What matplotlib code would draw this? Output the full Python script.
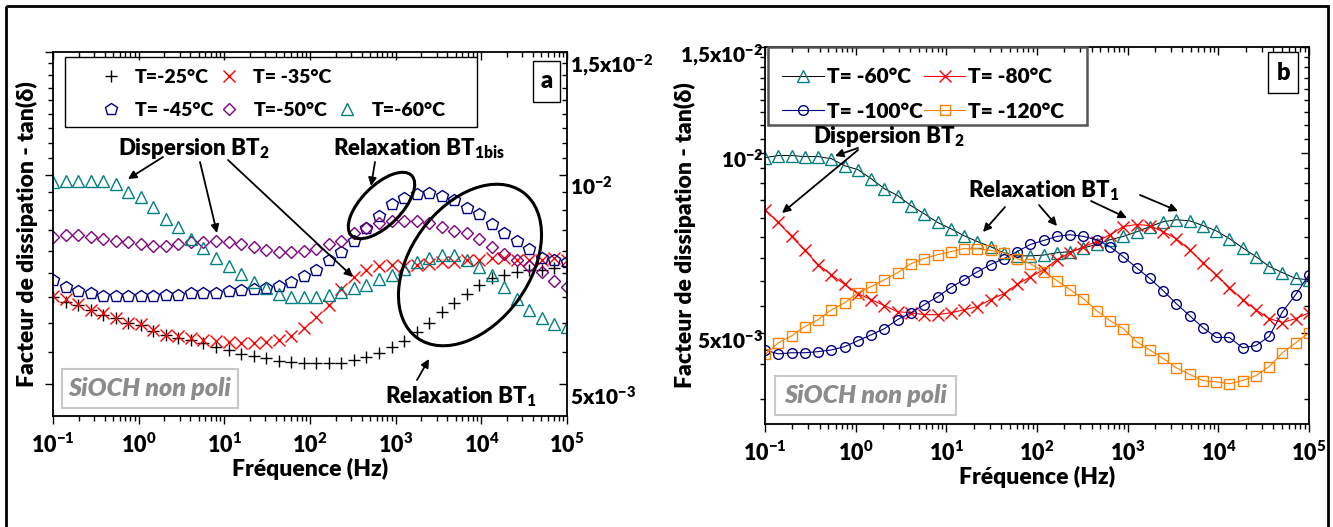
import matplotlib
matplotlib.use('Agg')
import numpy as np
import matplotlib.pyplot as plt
import matplotlib.lines as mlines
import matplotlib.transforms as mtransforms
from matplotlib.patches import Ellipse, Rectangle, FancyArrowPatch
from matplotlib.ticker import FixedLocator, FixedFormatter, LogLocator, NullFormatter

plt.rcParams['font.family'] = ['Lato', 'DejaVu Sans']
plt.rcParams['font.weight'] = 'heavy'
plt.rcParams['axes.labelweight'] = 'heavy'
plt.rcParams['mathtext.default'] = 'regular'
plt.rcParams['axes.linewidth'] = 1.3

# frequence (Hz), meme grille pour les deux panneaux
freq = [0.1, 0.1401, 0.1962, 0.2749, 0.3850, 0.5393, 0.7555,
        1.058, 1.482, 2.076, 2.908, 4.073, 5.705, 7.991,
        11.19, 15.68, 21.96, 30.77, 43.10, 60.37, 84.56,
        118.5, 165.9, 232.4, 325.5, 456.0, 638.7, 894.7,
        1253, 1756, 2459, 3444, 4825, 6759, 9454,
        13243, 18551, 25986, 36400, 50988, 71422, 100000]

# panneau a : tan(delta) x 1e-3
a_m25 = [6.67, 6.56, 6.49, 6.39, 6.28, 6.22, 6.12, 6.08, 5.96, 5.88,
         5.83, 5.78, 5.72, 5.66, 5.59, 5.53, 5.48, 5.46, 5.40, 5.38,
         5.37, 5.37, 5.37, 5.37, 5.41, 5.47, 5.54, 5.65, 5.76, 5.94,
         6.12, 6.34, 6.53, 6.73, 6.93, 7.10, 7.17, 7.24, 7.29, 7.29,
         7.33, 7.38]
a_m35 = [6.69, 6.62, 6.51, 6.39, 6.33, 6.22, 6.12, 6.10, 5.98, 5.88,
         5.86, 5.82, 5.78, 5.76, 5.74, 5.72, 5.72, 5.75, 5.78, 5.86,
         6.02, 6.24, 6.49, 6.84, 7.12, 7.29, 7.38, 7.41, 7.38, 7.41,
         7.43, 7.48, 7.50, 7.53, 7.55, 7.58, 7.58, 7.55, 7.55, 7.53,
         7.58, 7.53]
a_m45 = [7.05, 6.89, 6.80, 6.75, 6.69, 6.69, 6.69, 6.69, 6.69, 6.71,
         6.72, 6.75, 6.75, 6.77, 6.80, 6.82, 6.86, 6.88, 6.91, 7.01,
         7.14, 7.30, 7.53, 7.74, 8.04, 8.37, 8.71, 9.06, 9.27, 9.39,
         9.42, 9.33, 9.18, 8.94, 8.77, 8.48, 8.23, 8.02, 7.81, 7.60,
         7.53, 7.50]
a_m50 = [8.13, 8.18, 8.18, 8.13, 8.09, 8.04, 8.00, 7.96, 7.89, 7.89,
         7.96, 8.00, 8.00, 8.04, 8.00, 7.94, 7.87, 7.80, 7.74, 7.74,
         7.76, 7.83, 7.96, 8.04, 8.23, 8.37, 8.51, 8.59, 8.59, 8.59,
         8.52, 8.42, 8.31, 8.23, 8.07, 7.86, 7.68, 7.53, 7.38, 7.24,
         7.03, 6.89]
a_m60 = [9.75, 9.80, 9.80, 9.78, 9.78, 9.68, 9.43, 9.30, 8.98, 8.64,
         8.40, 8.09, 7.85, 7.60, 7.38, 7.19, 7.01, 6.88, 6.73, 6.67,
         6.67, 6.67, 6.71, 6.78, 6.87, 6.93, 7.07, 7.17, 7.31, 7.48,
         7.60, 7.66, 7.66, 7.53, 7.36, 7.17, 6.89, 6.62, 6.39, 6.22,
         6.10, 6.04]

# panneau b : tan(delta) x 1e-3
b_m60 = [9.81, 9.89, 9.89, 9.85, 9.85, 9.77, 9.51, 9.37, 9.05, 8.71,
         8.48, 8.16, 7.91, 7.65, 7.47, 7.27, 7.11, 6.97, 6.81, 6.73,
         6.73, 6.75, 6.81, 6.84, 6.94, 7.03, 7.16, 7.25, 7.38, 7.53,
         7.67, 7.73, 7.70, 7.56, 7.41, 7.19, 6.94, 6.71, 6.46, 6.31,
         6.17, 6.14]
b_m80 = [8.04, 7.65, 7.25, 6.87, 6.51, 6.26, 6.03, 5.82, 5.69, 5.56,
         5.43, 5.41, 5.37, 5.37, 5.41, 5.47, 5.54, 5.69, 5.82, 6.03,
         6.21, 6.38, 6.63, 6.81, 6.97, 7.11, 7.30, 7.53, 7.59, 7.56,
         7.38, 7.19, 6.89, 6.56, 6.26, 5.96, 5.69, 5.47, 5.29, 5.21,
         5.29, 5.41]
b_m100 = [4.69, 4.62, 4.64, 4.64, 4.66, 4.69, 4.75, 4.86, 4.97, 5.09,
          5.27, 5.41, 5.58, 5.75, 5.96, 6.14, 6.33, 6.51, 6.66, 6.84,
          7.03, 7.14, 7.25, 7.30, 7.25, 7.16, 6.97, 6.71, 6.43, 6.17,
          5.89, 5.60, 5.35, 5.11, 4.92, 4.92, 4.73, 4.77, 4.94, 5.43,
          5.80, 6.26]
b_m120 = [4.61, 4.82, 4.95, 5.13, 5.27, 5.47, 5.62, 5.84, 5.98, 6.14,
          6.31, 6.53, 6.66, 6.76, 6.84, 6.92, 6.92, 6.87, 6.81, 6.66,
          6.53, 6.33, 6.12, 5.91, 5.71, 5.45, 5.25, 5.09, 4.84, 4.69,
          4.54, 4.38, 4.27, 4.17, 4.15, 4.12, 4.17, 4.25, 4.40, 4.64,
          4.82, 5.01]

x_ticks = [0.1, 1, 10, 100, 1e3, 1e4, 1e5]
x_labels = ['10$^{-1}$', '10$^{0}$', '10$^{1}$', '10$^{2}$', '10$^{3}$', '10$^{4}$', '10$^{5}$']
y_ticks = [5e-3, 1e-2, 1.5e-2]
y_labels = ['5x10$^{-3}$', '10$^{-2}$', '1,5x10$^{-2}$']
y_minor = [3.333e-3, 3.889e-3, 4.444e-3, 5.556e-3, 6.111e-3, 6.667e-3, 7.222e-3,
           7.778e-3, 8.333e-3, 8.889e-3, 9.444e-3, 10.556e-3, 11.111e-3, 11.667e-3,
           12.222e-3, 12.778e-3, 13.333e-3, 13.889e-3, 14.444e-3]

W, H = 1333, 527
fig = plt.figure(figsize=(W / 100, H / 100), dpi=100)
# coordonnees en pixels de l'image (y vers le bas)
pix = mtransforms.Affine2D().scale(1 / W, -1 / H).translate(0, 1) + fig.transFigure

ax_a = fig.add_axes([53 / W, 1 - 416 / H, 514 / W, 364 / H])
ax_b = fig.add_axes([765 / W, 1 - 424 / H, 544 / W, 377 / H])

f = np.array(freq)
teal, red, navy, purple, orange = '#008080', '#FF0000', '#000080', '#800080', '#FF8000'

# ---- panneau a : points seuls
h25, = ax_a.plot(f, np.array(a_m25) * 1e-3, ls='none', marker='+', color='k', ms=8, mew=1.0)
h35, = ax_a.plot(f, np.array(a_m35) * 1e-3, ls='none', marker='x', color=red, ms=8, mew=1.0)
h45, = ax_a.plot(f, np.array(a_m45) * 1e-3, ls='none', marker='p', mfc='none', mec=navy, ms=9, mew=1.0)
h50, = ax_a.plot(f, np.array(a_m50) * 1e-3, ls='none', marker='D', mfc='none', mec=purple, ms=6, mew=1.0)
h60, = ax_a.plot(f, np.array(a_m60) * 1e-3, ls='none', marker='^', mfc='none', mec=teal, ms=8.5, mew=1.0)

# ---- panneau b : points + lignes
g60, = ax_b.plot(f, np.array(b_m60) * 1e-3, color='k', lw=0.7, marker='^', mfc='none', mec=teal, ms=8, mew=1.0)
g80, = ax_b.plot(f, np.array(b_m80) * 1e-3, color=red, lw=0.8, marker='x', mec=red, ms=8, mew=1.0)
g100, = ax_b.plot(f, np.array(b_m100) * 1e-3, color=navy, lw=0.8, marker='o', mfc='none', mec=navy, ms=7, mew=1.0)
g120, = ax_b.plot(f, np.array(b_m120) * 1e-3, color=orange, lw=0.8, marker='s', mfc='none', mec=orange, ms=6.5, mew=1.0)

for ax in (ax_a, ax_b):
    ax.set_xscale('log')
    ax.set_yscale('log')
    ax.set_xlim(0.1, 1e5)
    ax.xaxis.set_major_locator(FixedLocator(x_ticks))
    ax.xaxis.set_major_formatter(FixedFormatter(x_labels))
    ax.xaxis.set_minor_locator(LogLocator(base=10, subs=np.arange(2, 10), numticks=100))
    ax.xaxis.set_minor_formatter(NullFormatter())
    ax.yaxis.set_major_locator(FixedLocator(y_ticks))
    ax.yaxis.set_major_formatter(FixedFormatter(y_labels))
    ax.yaxis.set_minor_locator(FixedLocator(y_minor))
    ax.yaxis.set_minor_formatter(NullFormatter())
    ax.tick_params(axis='x', which='both', direction='out', top=True, bottom=True,
                   labelsize=15.5, pad=6, width=1.0)
    ax.tick_params(which='major', length=6)
    ax.tick_params(which='minor', length=3.5)
    ax.set_xlabel('Fréquence (Hz)', fontsize=16.5, labelpad=1)

ax_a.set_ylim(4.5e-3, 1.5e-2)
ax_b.set_ylim(3.53e-3, 1.5e-2)

ax_a.tick_params(axis='y', which='both', direction='in', left=True, right=True,
                 labelleft=False, labelright=True, labelsize=15, pad=2, width=1.0)
ax_b.tick_params(axis='y', which='both', direction='out', left=True, right=True,
                 labelleft=True, labelright=False, labelsize=15, pad=-5, width=1.0)

ax_a.set_ylabel('Facteur de dissipation - tan(δ)', fontsize=16.5)
ax_a.yaxis.set_label_coords(-0.029, 0.5)
ax_b.set_ylabel('Facteur de dissipation - tan(δ)', fontsize=16.5)
ax_b.yaxis.set_label_coords(-0.127, 0.5)

# ---- legendes
ax_a.legend([h25, h45, h35, h50, mlines.Line2D([], [], ls='none'), h60],
            ['T=-25°C', 'T= -45°C', 'T= -35°C', 'T=-50°C', '', 'T=-60°C'],
            ncol=3, frameon=False, loc='upper left', bbox_to_anchor=(101, 69),
            bbox_transform=pix, borderpad=0, borderaxespad=0, handlelength=1.0,
            handletextpad=0.75, columnspacing=0.3, labelspacing=0.8, fontsize=14)
fig.add_artist(Rectangle((65, 57), 412, 70, transform=pix, fill=False, ec='k', lw=1.0))

ax_b.legend([g60, g100, g80, g120], ['T= -60°C', 'T= -100°C', 'T= -80°C', 'T= -120°C'],
            ncol=2, frameon=False, loc='upper left', bbox_to_anchor=(782, 67),
            bbox_transform=pix, borderpad=0, borderaxespad=0, handlelength=2.0,
            handletextpad=0.15, columnspacing=0.05, labelspacing=0.75, fontsize=15)
fig.add_artist(Rectangle((768, 47), 319, 78, transform=pix, fill=False, ec='#555555', lw=1.8))

# ---- etiquettes de panneau
for (x0, y0, w, h, s) in [(533, 61, 27, 41, 'a'), (1268, 52, 30, 41, 'b')]:
    fig.add_artist(Rectangle((x0, y0), w, h, transform=pix, fc='white', ec='k', lw=1.0))
    fig.text(x0 + w / 2, y0 + h / 2, s, transform=pix, ha='center', va='center', fontsize=17)

for (x0, y0, w, h) in [(62, 369, 176, 39), (775, 376, 181, 39)]:
    fig.add_artist(Rectangle((x0, y0), w, h, transform=pix, fc='white', ec='#c8c8c8', lw=1.5))
    fig.text(x0 + w / 2, y0 + h / 2, 'SiOCH non poli', transform=pix, ha='center',
             va='center', fontsize=18, style='italic', color='#8c8c8c')

# ---- annotations
texts = [(118, 155, 'Dispersion BT$_2$'), (333, 155, 'Relaxation BT$_{1bis}$'),
         (385, 403, 'Relaxation BT$_1$'), (813, 143, 'Dispersion BT$_2$'),
         (968, 197, 'Relaxation BT$_1$')]
for x, y, s in texts:
    fig.text(x, y, s, transform=pix, fontsize=16, va='baseline', ha='left')

arrows = [((163, 157), (128, 179)), ((200, 162), (217, 233)), ((228, 160), (353, 277)),
          ((375, 162), (371, 186)), ((417, 380), (429, 359)),
          ((858, 148), (835, 156)), ((858, 150), (782, 213)), ((1005, 207), (983, 232)),
          ((1039, 205), (1057, 226)), ((1091, 201), (1127, 218)), ((1140, 195), (1178, 211))]
for p0, p1 in arrows:
    fig.add_artist(FancyArrowPatch(p0, p1, transform=pix, arrowstyle='-|>', mutation_scale=12,
                                   lw=1.3, color='k', shrinkA=0, shrinkB=0))

fig.add_artist(Ellipse((381.5, 205.5), 85, 40, angle=-45, transform=pix, fill=False, ec='k', lw=2.2))
fig.add_artist(Ellipse((470, 265), 180, 119, angle=-54, transform=pix, fill=False, ec='k', lw=2.2))

# cadre exterieur
fig.add_artist(Rectangle((6, 6), 1322, 600, transform=pix, fill=False, ec='k', lw=2.0))

# ticks : vers l'exterieur en bas/gauche, vers l'interieur en haut/droite
fig.canvas.draw()
for ax in (ax_a, ax_b):
    for t in ax.xaxis.get_major_ticks() + ax.xaxis.get_minor_ticks():
        t.tick2line.set_marker(mlines.TICKDOWN)
        t.label1.set_fontweight('heavy')
for t in ax_a.yaxis.get_major_ticks() + ax_a.yaxis.get_minor_ticks():
    t.tick1line.set_marker(mlines.TICKLEFT)
for t in ax_b.yaxis.get_major_ticks() + ax_b.yaxis.get_minor_ticks():
    t.tick2line.set_marker(mlines.TICKLEFT)

# etiquettes y un peu sous le tick, comme dans Origin
for ax, dy in ((ax_a, 11), (ax_b, 6)):
    off = mtransforms.ScaledTranslation(0, -dy / 100, fig.dpi_scale_trans)
    for t in ax.yaxis.get_major_ticks():
        for lbl in (t.label1, t.label2):
            lbl.set_transform(lbl.get_transform() + off)
            lbl.set_fontweight('heavy')

fig.savefig('out.png', dpi=100)
